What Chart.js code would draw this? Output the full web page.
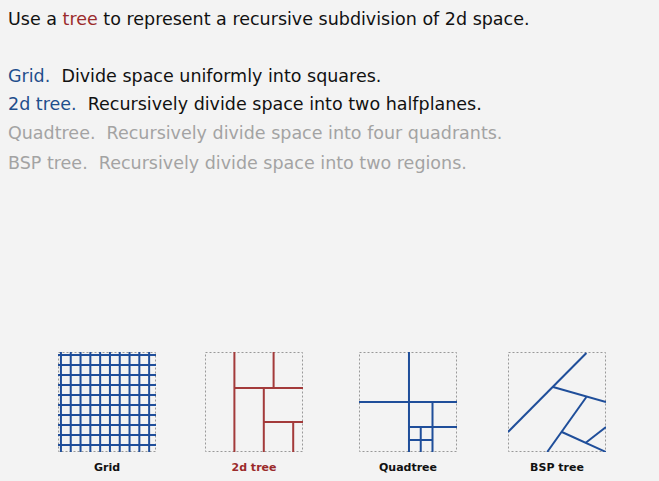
<!DOCTYPE html>
<html><head><meta charset="utf-8">
<script src="https://cdn.jsdelivr.net/npm/chart.js@4"></script>
<style>
  body { margin:0; width:659px; height:481px; background:#f3f3f3; position:relative; overflow:hidden;
         font-family:"DejaVu Sans", sans-serif; }
  .t { position:absolute; left:8px; font-size:17.5px; white-space:nowrap; color:#111; }
  .b { color:#1f4e8c; } .r { color:#9b2b2b; } .g { color:#a3a3a3; }
  .box { position:absolute; top:351px; width:100px; height:102px; }
  .lab { position:absolute; top:461px; width:100px; text-align:center; font-size:11px; font-weight:bold; color:#111; }
  .lab.r { color:#9b2b2b; }
</style></head>
<body>
<div class="t" style="top:9px">Use a <span class="r">tree</span> to represent a recursive subdivision of 2d space.</div>
<div class="t" style="top:66px"><span class="b">Grid.</span>&nbsp; Divide space uniformly into squares.</div>
<div class="t" style="top:94px"><span class="b">2d tree.</span>&nbsp; Recursively divide space into two halfplanes.</div>
<div class="t g" style="top:123px">Quadtree.&nbsp; Recursively divide space into four quadrants.</div>
<div class="t g" style="top:153px">BSP tree.&nbsp; Recursively divide space into two regions.</div>

<div class="box" style="left:57px"><canvas id="c0"></canvas></div>
<div class="box" style="left:204px"><canvas id="c1"></canvas></div>
<div class="box" style="left:358px"><canvas id="c2"></canvas></div>
<div class="box" style="left:507px"><canvas id="c3"></canvas></div>
<div class="lab" style="left:57px">Grid</div>
<div class="lab r" style="left:204px">2d tree</div>
<div class="lab" style="left:358px">Quadtree</div>
<div class="lab" style="left:507px">BSP tree</div>

<script>
// 각 다이어그램의 분할선 (단위 좌표, y는 위에서 아래로)
const gridLines = [0.03, 0.13, 0.23, 0.33, 0.43, 0.53, 0.63, 0.73, 0.83, 0.93];
const gridSegs = gridLines.flatMap(v => [[v, 0, v, 1], [0, v, 1, v]]);

const kdSegs = [
  [0.30, 0, 0.30, 1],
  [0.30, 0.36, 1, 0.36],
  [0.70, 0, 0.70, 0.36],
  [0.60, 0.36, 0.60, 1],
  [0.60, 0.70, 1, 0.70],
  [0.90, 0.70, 0.90, 1],
];

const quadSegs = [
  [0.51, 0, 0.51, 1],
  [0, 0.50, 1, 0.50],
  [0.75, 0.50, 0.75, 1],
  [0.51, 0.75, 1, 0.75],
  [0.63, 0.75, 0.63, 1],
  [0.51, 0.88, 0.75, 0.88],
];

const bspSegs = [
  [0, 0.80, 0.80, 0.01],
  [0.46, 0.35, 1, 0.50],
  [0.80, 0.45, 0.40, 1],
  [0.55, 0.80, 1, 1],
  [1, 0.75, 0.79, 0.91],
];

const BLUE = '#1f4e9a', RED = '#a33a3a';

const dashedBox = {
  id: 'dashedBox',
  beforeDatasetsDraw(ch) {
    const a = ch.chartArea, x = ch.ctx;
    x.save();
    x.strokeStyle = '#999'; x.lineWidth = 1; x.setLineDash([2, 2]);
    x.strokeRect(a.left + 0.5, a.top + 0.5, a.width - 1, a.height - 1);
    x.restore();
  }
};

function draw(id, segs, color) {
  new Chart(document.getElementById(id), {
    type: 'scatter',
    data: {
      datasets: segs.map(s => ({
        data: [{ x: s[0], y: s[1] }, { x: s[2], y: s[3] }],
        showLine: true, borderColor: color, borderWidth: 2,
        pointRadius: 0, clip: 0,
      })),
    },
    options: {
      responsive: true, maintainAspectRatio: false, animation: false,
      layout: { padding: 1 },
      plugins: { legend: { display: false }, tooltip: { enabled: false } },
      scales: {
        x: { min: 0, max: 1, display: false },
        y: { min: 0, max: 1, reverse: true, display: false },
      },
    },
    plugins: [dashedBox],
  });
}

draw('c0', gridSegs, BLUE);
draw('c1', kdSegs, RED);
draw('c2', quadSegs, BLUE);
draw('c3', bspSegs, BLUE);
</script>
</body></html>
